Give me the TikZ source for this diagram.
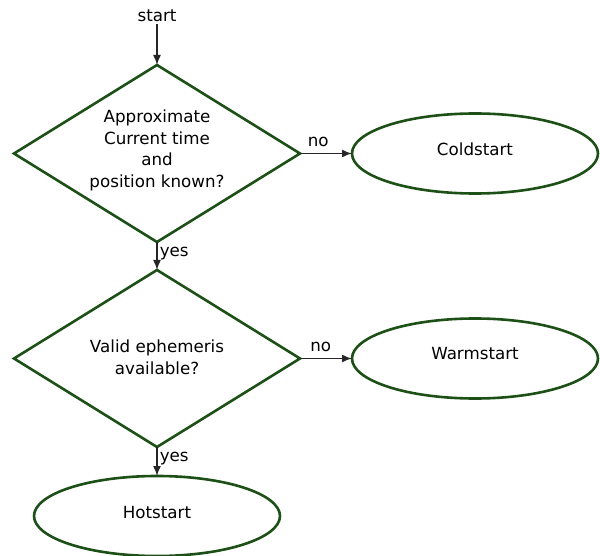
\documentclass[tikz,border=0pt]{standalone}
\usepackage{fontspec}
\setmainfont{DejaVu Sans}
\usetikzlibrary{shapes.geometric,arrows.meta}
\definecolor{dgreen}{RGB}{28,80,22}
\tikzset{
  decision/.style={shape=diamond, draw=dgreen, line width=2.6pt, inner sep=0pt, outer sep=0pt,
    minimum width=286pt, minimum height=177pt},
  terminal/.style={shape=ellipse, draw=dgreen, line width=2.6pt, inner sep=0pt, outer sep=0pt,
    minimum width=246pt, minimum height=80pt},
  plain/.style={font=\fontsize{16.7}{21.7}\selectfont, inner sep=2pt, align=center},
  conn/.style={draw=black!85, line width=1.5pt, -{Latex[length=10pt,width=8pt]}},
  lbl/.style={font=\fontsize{16.7}{21.7}\selectfont, inner sep=2pt}
}
\begin{document}
\begin{tikzpicture}[x=1pt,y=-1pt]
\useasboundingbox (0,0) rectangle (600,556);
\node[plain] (start) at (157,16) {start};
\node[decision] (d1) at (157,153.5) {};
\node[plain] (t1) at (157,150.5) {Approximate\\Current time\\and\\position known?};
\node[terminal] (cold) at (475,153.5) {};
\node[plain] (tc) at (475,149.5) {Coldstart};
\node[decision] (d2) at (157,358.5) {};
\node[plain] (t2) at (157,357) {Valid ephemeris\\available?};
\node[terminal] (warm) at (475,358.5) {};
\node[plain] (tw) at (475,354) {Warmstart};
\node[terminal] (hot) at (157,516) {};
\node[plain] (th) at (157,513) {Hotstart};
\draw[conn] (start.south) -- (d1.north);
\draw[conn] (d1.east) -- node[lbl, above, pos=0.35, inner sep=6pt] {no} (cold.west);
\draw[conn] (d1.south) -- node[lbl, right, pos=0.4] {yes} (d2.north);
\draw[conn] (d2.east) -- node[lbl, above, pos=0.4, inner sep=6pt] {no} (warm.west);
\draw[conn] (d2.south) -- node[lbl, right, pos=0.4] {yes} (hot.north);
\end{tikzpicture}
\end{document}
